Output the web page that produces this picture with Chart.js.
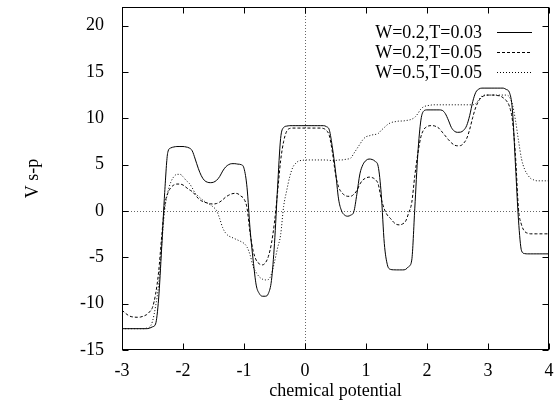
<!DOCTYPE html>
<html>
<head>
<meta charset="utf-8">
<script src="https://cdn.jsdelivr.net/npm/chart.js@4.4.1/dist/chart.umd.min.js"></script>
<style>
  html, body { margin: 0; padding: 0; background: #fff; }
</style>
</head>
<body>
<canvas id="myChart" width="558" height="400"></canvas>
<script>
// chemical potential grid
const xs = [
  -3.00, -2.95, -2.90, -2.85, -2.80, -2.75, -2.70, -2.65, -2.60, -2.55, -2.50, -2.45, -2.40, -2.35, -2.30, -2.25, -2.20, -2.15, -2.10, -2.05,
  -2.00, -1.95, -1.90, -1.85, -1.80, -1.75, -1.70, -1.65, -1.60, -1.55, -1.50, -1.45, -1.40, -1.35, -1.30, -1.25, -1.20, -1.15, -1.10, -1.05,
  -1.00, -0.95, -0.90, -0.85, -0.80, -0.75, -0.70, -0.65, -0.60, -0.55, -0.50, -0.45, -0.40, -0.35, -0.30, -0.25, -0.20, -0.15, -0.10, -0.05,
  0.00, 0.05, 0.10, 0.15, 0.20, 0.25, 0.30, 0.35, 0.40, 0.45, 0.50, 0.55, 0.60, 0.65, 0.70, 0.75, 0.80, 0.85, 0.90, 0.95,
  1.00, 1.05, 1.10, 1.15, 1.20, 1.25, 1.30, 1.35, 1.40, 1.45, 1.50, 1.55, 1.60, 1.65, 1.70, 1.75, 1.80, 1.85, 1.90, 1.95,
  2.00, 2.05, 2.10, 2.15, 2.20, 2.25, 2.30, 2.35, 2.40, 2.45, 2.50, 2.55, 2.60, 2.65, 2.70, 2.75, 2.80, 2.85, 2.90, 2.95,
  3.00, 3.05, 3.10, 3.15, 3.20, 3.25, 3.30, 3.35, 3.40, 3.45, 3.50, 3.55, 3.60, 3.65, 3.70, 3.75, 3.80, 3.85, 3.90, 3.95,
  4.00
];

// W=0.2, T=0.03
const vW02T003 = [
  -12.7, -12.7, -12.7, -12.7, -12.7, -12.7, -12.7, -12.7, -12.7, -12.65, -12.5, -12.2, -9.5, -4.0, 2.0, 6.3, 6.8, 6.9, 6.95, 6.95,
  6.95, 6.9, 6.8, 6.5, 5.6, 4.6, 3.8, 3.3, 3.1, 3.05, 3.1, 3.3, 3.7, 4.3, 4.75, 5.0, 5.1, 5.1, 5.05, 5.0,
  4.6, 2.5, -2.0, -5.3, -8.0, -8.9, -9.2, -9.2, -8.9, -7.5, -3.5, 2.5, 7.8, 9.0, 9.15, 9.2, 9.2, 9.2, 9.2, 9.2,
  9.2, 9.2, 9.2, 9.2, 9.2, 9.2, 9.2, 9.1, 8.7, 6.8, 4.3, 1.3, 0.0, -0.45, -0.57, -0.45, -0.1, 1.8, 4.0, 5.0,
  5.45, 5.6, 5.55, 5.35, 4.8, 1.8, -3.5, -5.8, -6.3, -6.35, -6.36, -6.36, -6.36, -6.3, -6.0, -5.3, 0.3, 6.2, 9.8, 10.8,
  10.9, 10.9, 10.9, 10.9, 10.9, 10.85, 10.5, 9.8, 9.0, 8.6, 8.48, 8.5, 8.7, 9.2, 10.3, 11.8, 12.8, 13.15, 13.25, 13.25,
  13.25, 13.25, 13.25, 13.25, 13.25, 13.25, 13.1, 12.8, 10.9, 5.0, -1.0, -4.3, -4.6, -4.63, -4.63, -4.63, -4.63, -4.63, -4.63, -4.63,
  -4.63
];

// W=0.2, T=0.05
const vW02T005 = [
  -10.7, -11.0, -11.25, -11.4, -11.45, -11.47, -11.45, -11.35, -11.2, -10.9, -10.4, -9.0, -6.6, -2.8, 0.6, 1.9, 2.5, 2.8, 2.9, 2.9,
  2.8, 2.55, 2.3, 2.1, 1.75, 1.35, 1.1, 0.95, 0.85, 0.77, 0.75, 0.8, 0.95, 1.2, 1.5, 1.7, 1.85, 1.9, 1.85, 1.6,
  1.3, 0.3, -2.4, -4.3, -5.3, -5.7, -5.82, -5.6, -4.9, -3.5, -1.2, 2.0, 5.4, 7.5, 8.6, 8.9, 8.94, 8.94, 8.94, 8.94,
  8.94, 8.94, 8.94, 8.94, 8.94, 8.94, 8.9, 8.7, 8.1, 6.3, 4.0, 2.6, 2.0, 1.7, 1.58, 1.58, 1.8, 2.2, 2.9, 3.35,
  3.55, 3.65, 3.6, 3.4, 2.9, 1.3, 0.2, -0.45, -0.8, -1.2, -1.45, -1.5, -1.4, -1.1, -0.2, 0.9, 3.8, 6.2, 8.0, 8.8,
  9.1, 9.2, 9.2, 9.1, 8.9, 8.5, 8.1, 7.7, 7.35, 7.1, 7.03, 7.05, 7.3, 7.8, 8.8, 10.1, 11.2, 11.9, 12.3, 12.45,
  12.5, 12.5, 12.5, 12.45, 12.4, 12.2, 11.9, 11.3, 9.8, 6.0, 0.2, -1.5, -2.2, -2.4, -2.47, -2.47, -2.47, -2.47, -2.47, -2.47,
  -2.47
];

// W=0.5, T=0.05
const vW05T005 = [
  -12.7, -12.7, -12.7, -12.7, -12.7, -12.7, -12.7, -12.7, -12.65, -12.55, -11.9, -10.3, -8.0, -3.8, 0.1, 2.0, 3.1, 3.7, 3.95, 3.95,
  3.7, 3.3, 3.0, 2.5, 1.9, 1.6, 1.3, 1.05, 0.85, 0.65, 0.4, 0.05, -0.8, -1.8, -2.4, -2.7, -2.85, -3.0, -3.15, -3.3,
  -3.5, -3.9, -4.75, -6.0, -6.65, -7.1, -7.35, -7.44, -7.4, -6.8, -5.5, -4.0, -2.6, 0.5, 2.2, 3.7, 4.7, 5.15, 5.4, 5.45,
  5.5, 5.5, 5.5, 5.5, 5.5, 5.5, 5.5, 5.5, 5.45, 5.45, 5.45, 5.5, 5.5, 5.55, 5.6, 5.7, 6.2, 6.7, 7.2, 7.7,
  8.0, 8.1, 8.2, 8.25, 8.35, 8.7, 9.0, 9.3, 9.5, 9.6, 9.65, 9.7, 9.7, 9.75, 9.8, 9.9, 10.1, 10.5, 11.0, 11.25,
  11.35, 11.4, 11.45, 11.45, 11.45, 11.45, 11.45, 11.45, 11.45, 11.45, 11.45, 11.45, 11.45, 11.45, 11.45, 11.45, 11.6, 12.0, 12.4, 12.5,
  12.5, 12.5, 12.5, 12.5, 12.5, 12.5, 12.5, 12.3, 11.5, 9.8, 7.6, 5.6, 4.5, 3.9, 3.5, 3.35, 3.25, 3.25, 3.25, 3.25,
  3.25
];

const seriesLabels = ["W=0.2,T=0.03", "W=0.2,T=0.05", "W=0.5,T=0.05"];
const xTicks = [-3, -2, -1, 0, 1, 2, 3, 4];
const yTicks = [-15, -10, -5, 0, 5, 10, 15, 20];

const FONT = "'Liberation Serif', 'Times New Roman', serif";
Chart.defaults.font.family = FONT;
Chart.defaults.font.size = 18;
Chart.defaults.color = "#000";

const toPoints = (vals) => vals.map((v, i) => ({ x: xs[i], y: v }));

const styles = [
  { dash: [] },
  { dash: [3, 2] },
  { dash: [1, 2] },
];

// gnuplot-like frame: box, inner ticks, zero axes, legend at top right
const framePlugin = {
  id: "frame",
  beforeDatasetsDraw(chart) {
    const { ctx, chartArea: a, scales } = chart;
    const x0 = Math.round(scales.x.getPixelForValue(0)) + 0.5;
    const y0 = Math.round(scales.y.getPixelForValue(0)) + 0.5;
    ctx.save();
    ctx.strokeStyle = "#666";
    ctx.lineWidth = 1;
    ctx.setLineDash([1, 2]);
    ctx.beginPath();
    ctx.moveTo(x0, a.top);
    ctx.lineTo(x0, a.bottom);
    ctx.moveTo(a.left, y0);
    ctx.lineTo(a.right, y0);
    ctx.stroke();
    ctx.restore();
  },
  afterDatasetsDraw(chart) {
    const { ctx, chartArea: a, scales } = chart;
    const L = Math.round(a.left) + 0.5, R = Math.round(a.right) - 0.5;
    const T = Math.round(a.top) + 0.5, B = Math.round(a.bottom) - 0.5;
    ctx.save();
    ctx.strokeStyle = "#000";
    ctx.lineWidth = 1;
    ctx.setLineDash([]);
    ctx.strokeRect(L, T, R - L, B - T);
    ctx.beginPath();
    xTicks.forEach((v) => {
      const px = Math.round(scales.x.getPixelForValue(v)) + 0.5;
      ctx.moveTo(px, B); ctx.lineTo(px, B - 6);
      ctx.moveTo(px, T); ctx.lineTo(px, T + 6);
    });
    yTicks.forEach((v) => {
      const py = Math.round(scales.y.getPixelForValue(v)) + 0.5;
      ctx.moveTo(L, py); ctx.lineTo(L + 6, py);
      ctx.moveTo(R, py); ctx.lineTo(R - 6, py);
    });
    ctx.stroke();

    // legend
    ctx.font = "18px " + FONT;
    ctx.textAlign = "right";
    ctx.textBaseline = "middle";
    ctx.fillStyle = "#000";
    chart.data.datasets.forEach((ds, i) => {
      const y = 32.5 + i * 20;
      ctx.fillText(ds.label, 482, y + 1);
      ctx.setLineDash(ds.borderDash || []);
      ctx.beginPath();
      ctx.moveTo(497, y);
      ctx.lineTo(532, y);
      ctx.stroke();
    });
    ctx.restore();
  },
};

const ctx = document.getElementById("myChart").getContext("2d");
const myChart = new Chart(ctx, {
  type: "line",
  data: {
    datasets: [vW02T003, vW02T005, vW05T005].map((vals, i) => ({
      label: seriesLabels[i],
      data: toPoints(vals),
      borderColor: "#000",
      borderWidth: 1,
      borderDash: styles[i].dash,
      pointRadius: 0,
      cubicInterpolationMode: "monotone",
      fill: false,
    })),
  },
  options: {
    responsive: false,
    animation: false,
    layout: { padding: { top: 7, right: 9, left: 0, bottom: 0 } },
    plugins: {
      legend: { display: false },
      tooltip: { enabled: false },
    },
    scales: {
      x: {
        type: "linear",
        min: -3,
        max: 4,
        afterFit: (scale) => {
          scale.height = 50;
          scale.paddingLeft = 0;
          scale.paddingRight = 0;
        },
        afterBuildTicks: (scale) => { scale.ticks = xTicks.map((v) => ({ value: v })); },
        grid: { display: false },
        border: { display: false },
        ticks: { padding: 2, maxRotation: 0, autoSkip: false },
        title: {
          display: true,
          text: "chemical potential",
          font: { lineHeight: 1.0 },
          padding: { top: 0, bottom: 0 },
        },
      },
      y: {
        type: "linear",
        min: -15,
        max: 22,
        afterFit: (scale) => {
          scale.width = 122;
          scale.paddingTop = 0;
          scale.paddingBottom = 0;
        },
        afterBuildTicks: (scale) => { scale.ticks = yTicks.map((v) => ({ value: v })); },
        grid: { display: false },
        border: { display: false },
        ticks: { padding: 10, autoSkip: false },
        title: {
          display: true,
          text: "V s-p",
          padding: { top: 22, bottom: 0 },
        },
      },
    },
  },
  plugins: [framePlugin],
});
</script>
</body>
</html>
